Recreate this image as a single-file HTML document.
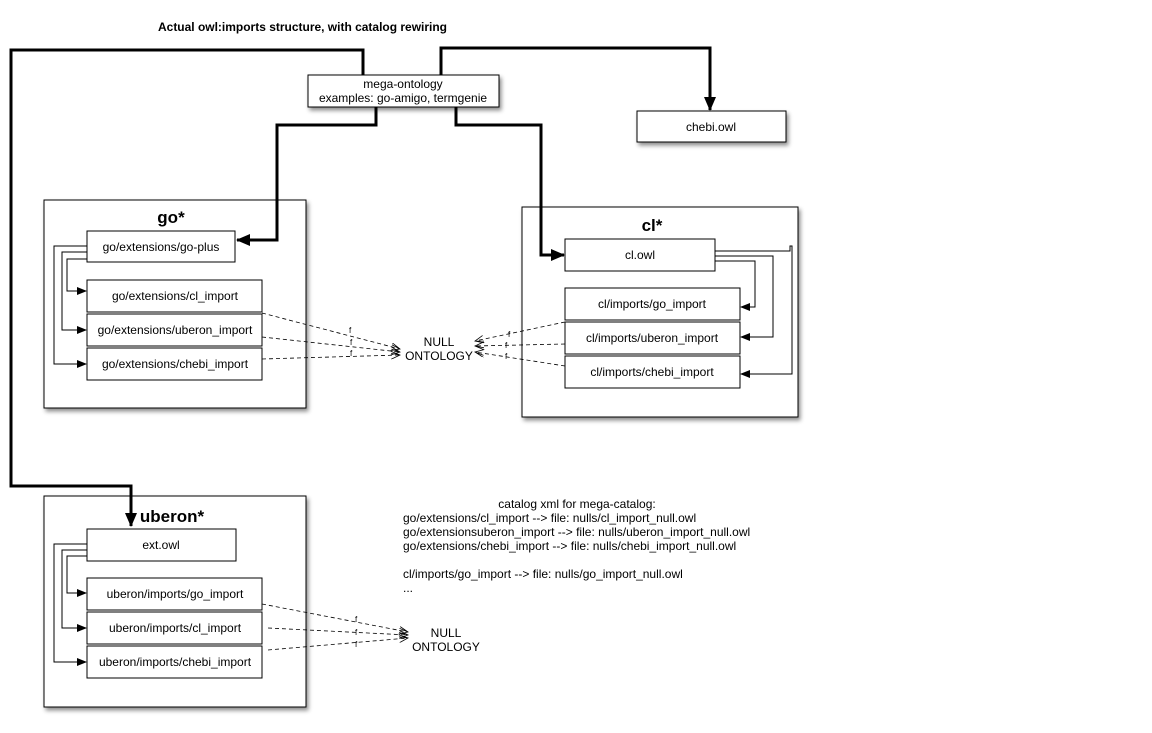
<!DOCTYPE html>
<html><head><meta charset="utf-8"><style>
html,body{margin:0;padding:0;background:#fff}
svg{display:block;font-family:"Liberation Sans",sans-serif}
</style></head><body>
<svg width="1152" height="733" viewBox="0 0 1152 733" xmlns="http://www.w3.org/2000/svg">
<defs>
<filter id="sh" x="-10%" y="-10%" width="130%" height="130%"><feDropShadow dx="2" dy="3" stdDeviation="2" flood-color="#000" flood-opacity="0.45"/></filter>
<marker id="a" markerWidth="10" markerHeight="8" refX="9" refY="4" orient="auto" markerUnits="userSpaceOnUse"><path d="M0,0 L10,4 L0,8 z" fill="#000"/></marker>
<marker id="A" markerWidth="14" markerHeight="12" refX="13" refY="6" orient="auto" markerUnits="userSpaceOnUse"><path d="M0,0 L14,6 L0,12 z" fill="#000"/></marker>
<marker id="o" markerWidth="10" markerHeight="8" refX="9" refY="4" orient="auto" markerUnits="userSpaceOnUse"><path d="M0,0 L9,4 L0,8 M0,2 L9,4" fill="none" stroke="#000" stroke-width="0.8"/></marker>
</defs>
<text x="158" y="31" font-size="12" font-weight="bold" textLength="289" lengthAdjust="spacingAndGlyphs">Actual owl:imports structure, with catalog rewiring</text>

<g fill="#fff" stroke="#000" stroke-width="1" filter="url(#sh)">
<rect x="44" y="200" width="262" height="208"/>
<rect x="522" y="207" width="276" height="210"/>
<rect x="44" y="496" width="262" height="211"/>
<rect x="308" y="75" width="191" height="32"/>
<rect x="637" y="111" width="149" height="31"/>
</g>
<g font-size="17" font-weight="bold" text-anchor="middle">
<text x="171" y="223">go*</text>
<text x="652" y="231">cl*</text>
<text x="172" y="522">uberon*</text>
</g>

<g fill="none" stroke="#000" stroke-width="3">
<path d="M363,75 V50 H11 V486 H131 V526" marker-end="url(#A)"/>
<path d="M441,75 V48 H710 V110" marker-end="url(#A)"/>
<path d="M376,107 V125 H277 V240 H237" marker-end="url(#A)"/>
<path d="M456,107 V125 H541 V255 H564" marker-end="url(#A)"/>
</g>

<g fill="#fff" stroke="#000" stroke-width="1">
<rect x="87" y="231" width="148" height="31"/>
<rect x="87" y="280" width="175" height="32"/>
<rect x="87" y="314" width="175" height="32"/>
<rect x="87" y="348" width="175" height="32"/>
<rect x="565" y="239" width="150" height="32"/>
<rect x="565" y="288" width="175" height="32"/>
<rect x="565" y="322" width="175" height="32"/>
<rect x="565" y="356" width="175" height="32"/>
<rect x="87" y="529" width="149" height="32"/>
<rect x="87" y="578" width="175" height="32"/>
<rect x="87" y="612" width="175" height="32"/>
<rect x="87" y="646" width="175" height="32"/>
</g>
<g font-size="12" text-anchor="middle">
<text x="403" y="88">mega-ontology</text>
<text x="403" y="102">examples: go-amigo, termgenie</text>
<text x="711" y="131">chebi.owl</text>
<text x="161" y="251">go/extensions/go-plus</text>
<text x="175" y="300">go/extensions/cl_import</text>
<text x="175" y="334">go/extensions/uberon_import</text>
<text x="175" y="368">go/extensions/chebi_import</text>
<text x="640" y="259">cl.owl</text>
<text x="652" y="308">cl/imports/go_import</text>
<text x="652" y="342">cl/imports/uberon_import</text>
<text x="652" y="376">cl/imports/chebi_import</text>
<text x="161" y="549">ext.owl</text>
<text x="175" y="598">uberon/imports/go_import</text>
<text x="175" y="632">uberon/imports/cl_import</text>
<text x="175" y="666">uberon/imports/chebi_import</text>
<text x="439" y="346">NULL</text>
<text x="439" y="360">ONTOLOGY</text>
<text x="446" y="637">NULL</text>
<text x="446" y="651">ONTOLOGY</text>
</g>

<g fill="none" stroke="#000" stroke-width="1">
<path d="M87,246 H54 V364 H86" marker-end="url(#a)"/>
<path d="M87,252 H62 V330 H86" marker-end="url(#a)"/>
<path d="M87,259 H67 V291 H86" marker-end="url(#a)"/>
<path d="M715,251 H790 V246 H792 V374 H741" marker-end="url(#a)"/>
<path d="M715,256 H773 V337 H741" marker-end="url(#a)"/>
<path d="M715,261 H755 V307 H741" marker-end="url(#a)"/>
<path d="M87,544 H54 V662 H86" marker-end="url(#a)"/>
<path d="M87,550 H62 V628 H86" marker-end="url(#a)"/>
<path d="M87,556 H67 V593 H86" marker-end="url(#a)"/>
</g>
<g fill="none" stroke="#000" stroke-width="0.8" stroke-dasharray="4,3">
<path d="M262,313 L400,349" marker-end="url(#o)"/>
<path d="M262,337 L400,352" marker-end="url(#o)"/>
<path d="M262,359 L400,355" marker-end="url(#o)"/>
<path d="M565,322 L475,341" marker-end="url(#o)"/>
<path d="M565,344 L475,346" marker-end="url(#o)"/>
<path d="M565,366 L475,352" marker-end="url(#o)"/>
<path d="M262,604 L408,632" marker-end="url(#o)"/>
<path d="M268,628 L408,635" marker-end="url(#o)"/>
<path d="M268,650 L408,638" marker-end="url(#o)"/>
</g>
<g font-size="8">
<text x="349" y="333">f</text><text x="350" y="345">f</text><text x="350" y="356">f</text>
<text x="508" y="337">f</text><text x="505" y="348">f</text><text x="505" y="359">f</text>
<text x="355" y="622">f</text><text x="355" y="635">f</text><text x="355" y="647">f</text>
</g>

<g font-size="12">
<text x="577" y="508" text-anchor="middle">catalog xml for mega-catalog:</text>
<text x="403" y="522">go/extensions/cl_import --&gt; file: nulls/cl_import_null.owl</text>
<text x="403" y="536">go/extensionsuberon_import --&gt; file: nulls/uberon_import_null.owl</text>
<text x="403" y="550">go/extensions/chebi_import --&gt; file: nulls/chebi_import_null.owl</text>
<text x="403" y="578">cl/imports/go_import --&gt; file: nulls/go_import_null.owl</text>
<text x="403" y="592">...</text>
</g>
</svg>
</body></html>
